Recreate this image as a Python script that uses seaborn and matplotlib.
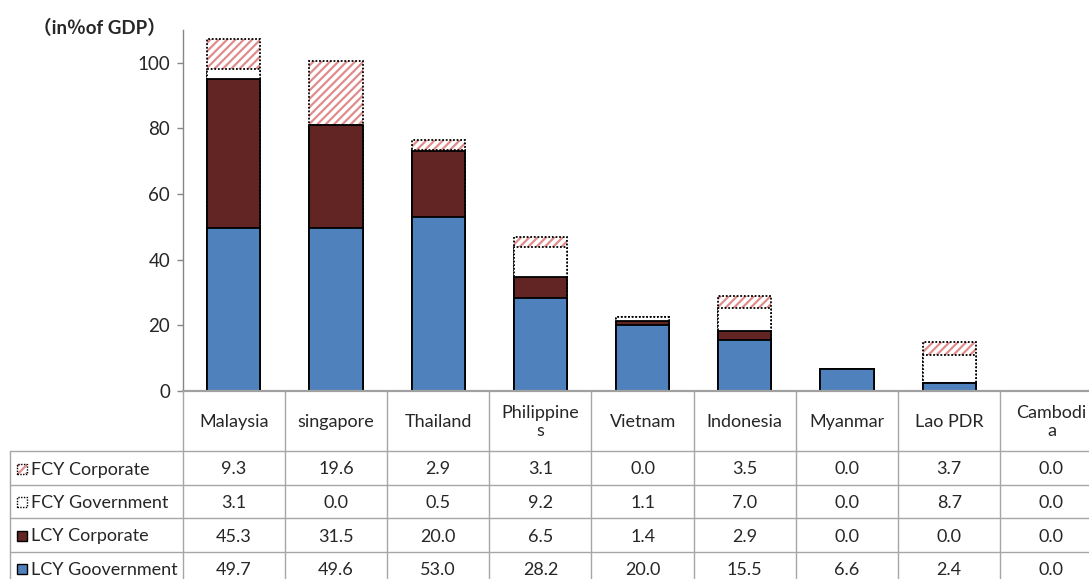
import numpy as np
import pandas as pd
import matplotlib
matplotlib.use("Agg")
import matplotlib.pyplot as plt
import seaborn as sns
from matplotlib.patches import Rectangle
from matplotlib.lines import Line2D
from matplotlib import transforms

# ---------------- data ----------------
countries = ["Malaysia", "singapore", "Thailand", "Philippines", "Vietnam",
             "Indonesia", "Myanmar", "Lao PDR", "Cambodia"]
header_labels = ["Malaysia", "singapore", "Thailand", "Philippine\ns", "Vietnam",
                 "Indonesia", "Myanmar", "Lao PDR", "Cambodi\na"]
fcy_corporate = [9.3, 19.6, 2.9, 3.1, 0.0, 3.5, 0.0, 3.7, 0.0]
fcy_government = [3.1, 0.0, 0.5, 9.2, 1.1, 7.0, 0.0, 8.7, 0.0]
lcy_corporate = [45.3, 31.5, 20.0, 6.5, 1.4, 2.9, 0.0, 0.0, 0.0]
lcy_government = [49.7, 49.6, 53.0, 28.2, 20.0, 15.5, 6.6, 2.4, 0.0]
series_names = ["FCY Corporate", "FCY Government", "LCY Corporate", "LCY Goovernment"]
y_ticks = [0, 20, 40, 60, 80, 100]
y_label = "（in％of GDP）"

# ---------------- style ----------------
sns.set_style("white")
plt.rcParams["font.family"] = ["Lato", "Noto Sans CJK JP", "DejaVu Sans"]
plt.rcParams["hatch.linewidth"] = 1.6

BLUE = "#4F81BD"
DRED = "#632523"
PINK = "#E08C8C"
GRID = "#A6A6A6"
FS = 13

W, H = 1089, 579
fig = plt.figure(figsize=(W / 100, H / 100), dpi=100)
fig.patch.set_facecolor("white")

def fy(y):
    return 1 - y / H

ax_left, ax_right, ax_bottom, ax_top = 182.7, 182.7 + 9 * 102.2, 391, 30
ax = fig.add_axes([ax_left / W, fy(ax_bottom), (ax_right - ax_left) / W, (ax_bottom - ax_top) / H])

df = pd.DataFrame({
    "country": countries,
    "lcy_gov": lcy_government,
    "lcy_corp": lcy_corporate,
    "fcy_gov": fcy_government,
    "fcy_corp": fcy_corporate,
})
df["c1"] = df["lcy_gov"]
df["c2"] = df["c1"] + df["lcy_corp"]
df["c3"] = df["c2"] + df["fcy_gov"]
df["c4"] = df["c3"] + df["fcy_corp"]

bw = 0.52
dot = (0, (1, 1))
common = dict(data=df, x="country", order=countries, width=bw, errorbar=None,
              saturation=1, ax=ax)

# FCY Corporate (hatched) – top layer, drawn first
sns.barplot(y="c4", color="white", edgecolor=PINK, linewidth=0.01, hatch="////", **common)
sns.barplot(y="c4", color="white", facecolor="none", edgecolor="black",
            linewidth=1.3, linestyle=dot, **common)
# FCY Government (white, dotted)
sns.barplot(y="c3", color="white", edgecolor="black", linewidth=1.3, linestyle=dot, **common)
# LCY Corporate
sns.barplot(y="c2", color=DRED, edgecolor="black", linewidth=1.3, **common)
# LCY Government
sns.barplot(y="c1", color=BLUE, edgecolor="black", linewidth=1.3, **common)

for p in ax.patches:
    if p.get_height() == 0:
        p.set_edgecolor("none")

ax.set_xlim(-0.5, len(countries) - 0.5)
ax.set_ylim(0, 110)
ax.set_yticks(y_ticks)
ax.set_xticks([])
ax.set_xlabel("")
ax.set_ylabel("")
ax.tick_params(axis="y", length=4, width=1, color="#868686", labelsize=13.5, pad=5,
               left=True, direction="out")
for s in ["top", "right"]:
    ax.spines[s].set_visible(False)
ax.spines["left"].set_color("#868686")
ax.spines["left"].set_linewidth(1)
ax.spines["bottom"].set_color("#A0A0A0")
ax.spines["bottom"].set_linewidth(1.6)

fig.text(166 / W, fy(28), y_label, ha="right", va="center", fontsize=13.5,
         fontweight="bold")

# ---------------- data table ----------------
trans = transforms.blended_transform_factory(ax.transData, fig.transFigure)

# vertical column boundaries
for i in range(len(countries) + 1):
    b = i - 0.5
    fig.add_artist(Line2D([b, b], [fy(391), fy(600)], transform=trans,
                          color=GRID, lw=1, clip_on=False))
# left border of row-label column
fig.add_artist(Line2D([10 / W, 10 / W], [fy(451), fy(600)], transform=fig.transFigure,
                      color=GRID, lw=1))
row_lines = [451, 485, 518, 552]
for y in row_lines:
    fig.add_artist(Line2D([10 / W, 1.0], [fy(y), fy(y)], transform=fig.transFigure,
                          color=GRID, lw=1))

# header labels
for i, lab in enumerate(header_labels):
    fig.text(i, fy(422), lab, transform=trans, ha="center", va="center",
             fontsize=FS, linespacing=1.15)

row_centers = [469.5, 503, 536.5, 570]
row_values = [fcy_corporate, fcy_government, lcy_corporate, lcy_government]
for name, yc, vals, k in zip(series_names, row_centers, row_values, range(4)):
    kx, ky, ks = 17, yc - 6, 10
    if k == 0:
        fig.add_artist(Rectangle((kx / W, fy(ky + ks)), ks / W, ks / H,
                                 transform=fig.transFigure, facecolor="white",
                                 edgecolor=PINK, lw=0.01, hatch="////"))
        fig.add_artist(Rectangle((kx / W, fy(ky + ks)), ks / W, ks / H,
                                 transform=fig.transFigure, facecolor="none",
                                 edgecolor="black", lw=1, linestyle=dot))
    elif k == 1:
        fig.add_artist(Rectangle((kx / W, fy(ky + ks)), ks / W, ks / H,
                                 transform=fig.transFigure, facecolor="white",
                                 edgecolor="black", lw=1, linestyle=dot))
    else:
        fig.add_artist(Rectangle((kx / W, fy(ky + ks)), ks / W, ks / H,
                                 transform=fig.transFigure,
                                 facecolor=DRED if k == 2 else BLUE,
                                 edgecolor="black", lw=1))
    fig.text(31 / W, fy(yc), name, ha="left", va="center", fontsize=FS)
    for i, v in enumerate(vals):
        fig.text(i, fy(yc), f"{v:.1f}", transform=trans, ha="center", va="center",
                 fontsize=FS)

fig.savefig("out.png", dpi=100, facecolor="white")
